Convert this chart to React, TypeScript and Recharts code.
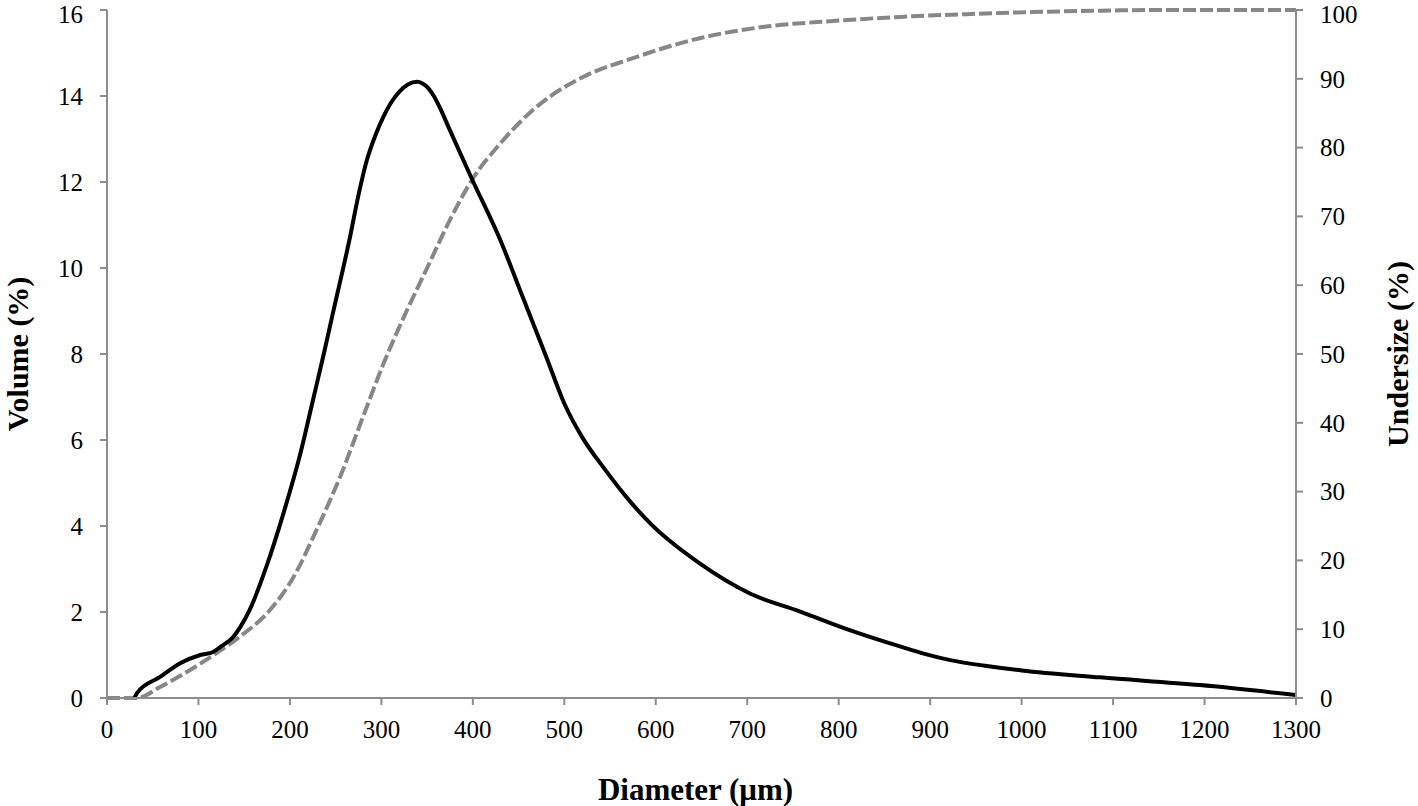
import React from 'react';
import { LineChart, Line, XAxis, YAxis } from 'recharts';

// Volume distribution (left axis)
const volumeDiameters = [30, 33, 58, 80, 102, 116, 124, 138, 146, 156, 175, 193, 211, 226, 237, 247, 266, 275, 284, 293, 302, 311, 320, 329, 339, 345, 351, 357, 363, 375, 386, 399, 430, 455, 480, 500, 520, 545, 570, 594, 648, 703, 758, 812, 867, 895, 922, 960, 1000, 1086, 1195, 1300];
const volumeValues = [0, 0.12, 0.49, 0.81, 1.0, 1.07, 1.19, 1.42, 1.66, 2.05, 3.1, 4.3, 5.65, 7.0, 8.0, 8.95, 10.75, 11.7, 12.5, 13.06, 13.51, 13.86, 14.11, 14.27, 14.33, 14.29, 14.19, 14.01, 13.77, 13.2, 12.68, 12.07, 10.65, 9.3, 7.95, 6.85, 6.05, 5.3, 4.62, 4.06, 3.13, 2.43, 2.01, 1.58, 1.2, 1.02, 0.88, 0.75, 0.64, 0.48, 0.3, 0.07];

// Cumulative undersize (right axis)
const undersizeDiameters = [0, 33, 58, 102, 145, 175, 204, 229, 255, 280, 302, 325, 350, 375, 399, 430, 466, 484, 521, 575, 648, 721, 794, 867, 940, 1012, 1086, 1150, 1300];
const undersizeValues = [0, 0, 1.6, 5.0, 8.9, 12.3, 17.6, 24.4, 32.2, 40.9, 48.5, 55.5, 62.5, 69.5, 75.3, 80.6, 85.5, 87.4, 90.3, 93.0, 95.9, 97.6, 98.4, 99.0, 99.4, 99.7, 99.9, 100, 100];

const xTicks = [0, 100, 200, 300, 400, 500, 600, 700, 800, 900, 1000, 1100, 1200, 1300];
const leftTicks = [0, 2, 4, 6, 8, 10, 12, 14, 16];
const rightTicks = [0, 10, 20, 30, 40, 50, 60, 70, 80, 90, 100];

const volumeData = volumeDiameters.map((d, i) => ({ d, v: volumeValues[i] }));
const undersizeData = undersizeDiameters.map((d, i) => ({ d, u: undersizeValues[i] }));

const FONT = '"Liberation Serif", "Times New Roman", serif';
const AXIS = '#8c8c8c';
const tickStyle = { fontFamily: FONT, fontSize: 25, fill: '#000' };

const VerticalTitle = (props: any) => {
  const { viewBox, text, bx } = props;
  const cy = viewBox.y + viewBox.height / 2;
  return (
    <text
      x={bx}
      y={cy}
      transform={`rotate(-90 ${bx} ${cy})`}
      textAnchor="middle"
      fontFamily={FONT}
      fontWeight="bold"
      fontSize={30}
      fill="#000"
    >
      {text}
    </text>
  );
};

const BottomTitle = (props: any) => {
  const { viewBox } = props;
  const cx = viewBox.x + viewBox.width / 2 - 6;
  return (
    <text x={cx} y={800} textAnchor="middle" fontFamily={FONT} fontWeight="bold" fontSize={31} fill="#000">
      Diameter (μm)
    </text>
  );
};

export default function App() {
  return (
    <div style={{ position: 'absolute', left: 0, top: 0, width: 1418, height: 806, background: '#fff' }}>
      <LineChart width={1418} height={806} margin={{ top: 10, right: 0, bottom: 0, left: 0 }}>
        <XAxis
          dataKey="d"
          type="number"
          domain={[0, 1300]}
          ticks={xTicks}
          allowDataOverflow
          height={108}
          stroke={AXIS}
          strokeWidth={2}
          tickSize={7}
          tickMargin={15}
          tick={tickStyle}
          tickLine={{ stroke: AXIS, strokeWidth: 2 }}
          label={<BottomTitle />}
        />
        <YAxis
          yAxisId="left"
          orientation="left"
          domain={[0, 16]}
          ticks={leftTicks}
          width={107}
          stroke={AXIS}
          strokeWidth={2}
          tickSize={7}
          tickMargin={17}
          tick={tickStyle}
          tickLine={{ stroke: AXIS, strokeWidth: 2 }}
          label={<VerticalTitle text="Volume (%)" bx={28} />}
        />
        <YAxis
          yAxisId="right"
          orientation="right"
          domain={[0, 100]}
          ticks={rightTicks}
          width={122}
          stroke={AXIS}
          strokeWidth={2}
          tickSize={7}
          tickMargin={17}
          tick={{ ...tickStyle, textAnchor: 'start' }}
          tickLine={{ stroke: AXIS, strokeWidth: 2 }}
          label={<VerticalTitle text="Undersize (%)" bx={1408} />}
        />
        <Line
          yAxisId="right"
          data={undersizeData}
          dataKey="u"
          type="monotone"
          stroke="#878787"
          strokeWidth={4}
          strokeDasharray="13 4"
          dot={false}
          activeDot={false}
          isAnimationActive={false}
        />
        <Line
          yAxisId="left"
          data={volumeData}
          dataKey="v"
          type="monotone"
          stroke="#000"
          strokeWidth={4}
          dot={false}
          activeDot={false}
          isAnimationActive={false}
        />
      </LineChart>
    </div>
  );
}
